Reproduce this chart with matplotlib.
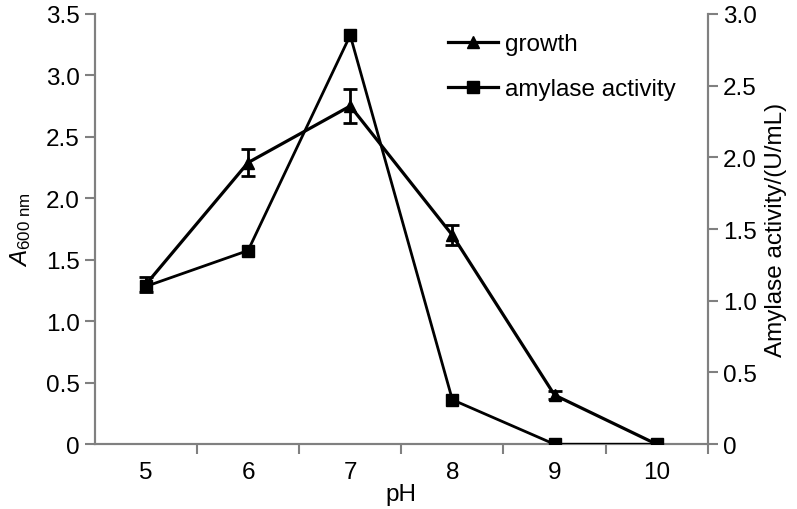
import matplotlib
matplotlib.use("Agg")
import matplotlib.pyplot as plt
from matplotlib.ticker import FuncFormatter, FixedLocator
from matplotlib.lines import Line2D

plt.rcParams['font.family'] = ['Liberation Sans', 'DejaVu Sans']
plt.rcParams['mathtext.fontset'] = 'custom'
plt.rcParams['mathtext.rm'] = 'Liberation Sans'
plt.rcParams['mathtext.it'] = 'Liberation Sans:italic'

ph = [5, 6, 7, 8, 9, 10]
growth = [1.30, 2.29, 2.75, 1.70, 0.40, 0.0]
growth_err = [0.06, 0.11, 0.14, 0.08, 0.03, 0.0]
amylase = [1.10, 1.35, 2.85, 0.31, 0.0, 0.0]

gray = '#808080'
fs = 17.5

fig = plt.figure(figsize=(7.97, 5.10), dpi=100)
ax = fig.add_axes([0.119, 0.127, 0.769, 0.844])
ax2 = ax.twinx()

x = list(range(len(ph)))
ax.errorbar(x, growth, yerr=growth_err, color='black', lw=2.3, marker='^',
            markersize=9, capsize=5, capthick=2, elinewidth=2, zorder=3)
ax2.plot(x, amylase, color='black', lw=2.0, marker='s', markersize=9, zorder=3)

ax.set_xlim(-0.5, len(ph) - 0.5)
ax.set_ylim(0, 3.5)
ax2.set_ylim(0, 3.0)
ax.set_yticks([0, 0.5, 1.0, 1.5, 2.0, 2.5, 3.0, 3.5])
ax2.set_yticks([0, 0.5, 1.0, 1.5, 2.0, 2.5, 3.0])
fmt = FuncFormatter(lambda v, p: '0' if abs(v) < 1e-9 else f'{v:.1f}')
ax.yaxis.set_major_formatter(fmt)
ax2.yaxis.set_major_formatter(fmt)

ax.set_xticks(x)
ax.set_xticklabels([str(p) for p in ph])
ax.xaxis.set_minor_locator(FixedLocator([i + 0.5 for i in range(len(ph))]))
ax.tick_params(axis='x', which='major', length=0, labelsize=fs, pad=12)
ax.tick_params(axis='x', which='minor', length=7, width=1.5, color=gray, direction='out')
ax.tick_params(axis='y', length=7, width=1.5, color=gray, labelsize=fs, direction='out', pad=4)
ax2.tick_params(axis='y', length=7, width=1.5, color=gray, labelsize=fs, direction='out', pad=4)

for a in (ax, ax2):
    a.spines['top'].set_visible(False)
    for s in ('left', 'right', 'bottom'):
        a.spines[s].set_color(gray)
        a.spines[s].set_linewidth(1.5)

ax.set_xlabel('pH', fontsize=fs, labelpad=0)
ax.set_ylabel(r'$A_{\mathrm{600\ nm}}$', fontsize=fs, labelpad=9)
ax2.set_ylabel('Amylase activity/(U/mL)', fontsize=fs, labelpad=6)

handles = [Line2D([], [], color='black', lw=2.3, marker='^', markersize=9),
           Line2D([], [], color='black', lw=2.3, marker='s', markersize=9)]
labels = ['growth', 'amylase activity']
ax2.legend(handles, labels, loc='upper left', bbox_to_anchor=(0.54, 1.006),
           frameon=False, fontsize=fs, handlelength=2.05, handletextpad=0.3,
           labelspacing=0.96)

fig.savefig('out.png', dpi=100)
